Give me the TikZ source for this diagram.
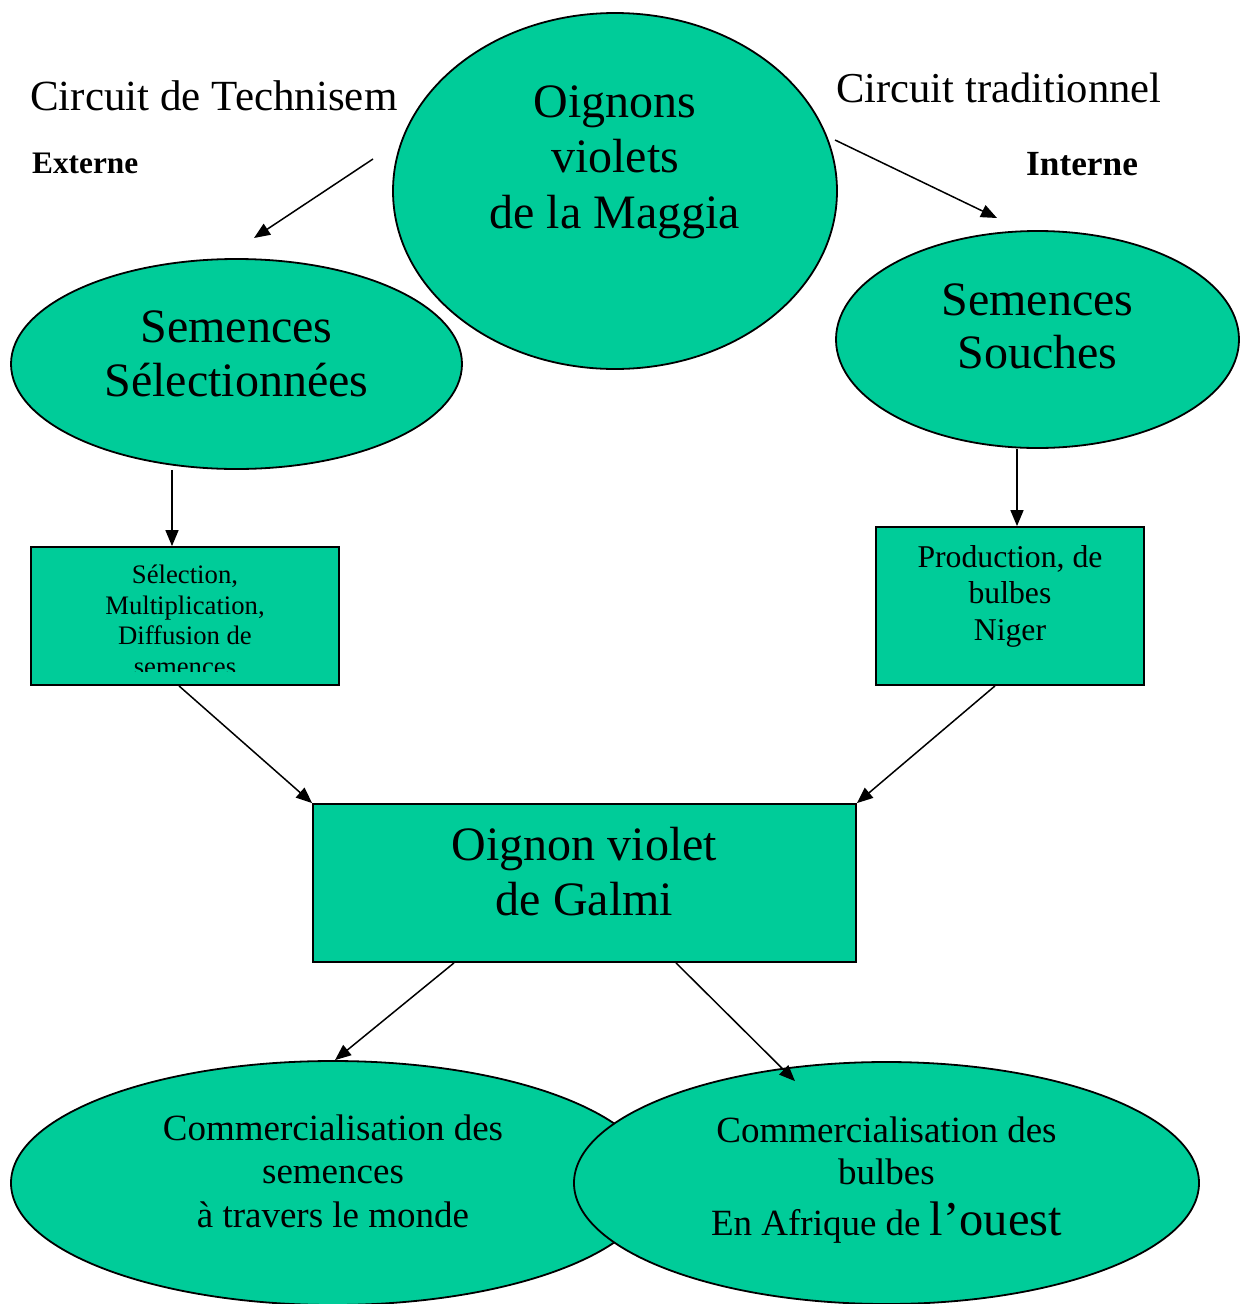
\documentclass[tikz,border=0pt]{standalone}
\usepackage{fontspec}
\setmainfont{Liberation Serif}
\usetikzlibrary{arrows.meta,shapes.geometric}
\definecolor{onion}{HTML}{00CC99}
\tikzset{
  ell/.style={ellipse, draw=black, line width=1.8pt, fill=onion, inner sep=0pt},
  boxnode/.style={rectangle, draw=black, line width=1.8pt, fill=onion, inner sep=0pt},
  arr/.style={line width=1.5pt, -{Triangle[length=16pt,width=13pt]}},
  txt/.style={align=center, inner sep=0pt, anchor=base},
  bigtxt/.style={txt, font=\fontsize{48}{55.5}\selectfont},
  lbl/.style={inner sep=0pt, anchor=base west, font=\fontsize{43}{50}\selectfont},
}
\begin{document}
\begin{tikzpicture}[x=1pt, y=-1pt]
\useasboundingbox (0,0) rectangle (1240,1304);

% titles of the two circuits
\node[lbl] (tech) at (30,110) {Circuit de Technisem};
\node[lbl, font=\fontsize{42.6}{50}\selectfont] (trad) at (836,102) {Circuit traditionnel};
\node[lbl, font=\bfseries\fontsize{31.3}{36}\selectfont] (ext) at (32,173) {Externe};
\node[lbl, font=\bfseries\fontsize{35.3}{40}\selectfont] (int) at (1026,175) {Interne};

% origin
\node[ell, minimum width=444pt, minimum height=356pt] (top) at (615,191) {};
\node[bigtxt] (toptxt) at (615,228) {Oignons\\violets\\de la Maggia};

% seed ellipses
\node[ell, minimum width=451pt, minimum height=210pt] (sel) at (236.5,364) {};
\node[bigtxt, font=\fontsize{48}{54}\selectfont] (seltxt) at (236.5,396) {Semences\\Sélectionnées};
\node[ell, minimum width=403pt, minimum height=217pt] (sou) at (1037.5,339.5) {};
\node[bigtxt, font=\fontsize{48}{53}\selectfont] (soutxt) at (1037.5,368) {Semences\\Souches};

% production boxes (the last line of the left box is cut by its frame)
\node[boxnode, minimum width=308pt, minimum height=138pt] (lbox) at (185,616) {};
\begin{scope}
  \clip (32,548) rectangle (338,671);
  \node[txt, font=\fontsize{26.7}{30.5}\selectfont] (lboxtxt) at (185,675)
    {Sélection,\\Multiplication,\\Diffusion de\\semences};
\end{scope}
\node[boxnode, minimum width=268pt, minimum height=158pt] (rbox) at (1010,606) {};
\node[txt, font=\fontsize{31.7}{36.5}\selectfont] (rboxtxt) at (1010,640)
  {Production, de\\bulbes\\Niger};

% central product
\node[boxnode, minimum width=543pt, minimum height=158pt] (cbox) at (584.5,883) {};
\node[bigtxt, font=\fontsize{48}{55}\selectfont] (cboxtxt) at (584.5,915) {Oignon violet\\de Galmi};

% markets
\node[ell, minimum width=644pt, minimum height=244pt] (bl) at (333,1183) {};
\node[txt, font=\fontsize{37}{43.5}\selectfont] (bltxt) at (333,1227)
  {Commercialisation des\\semences\\à travers le monde};
\node[ell, minimum width=625pt, minimum height=242pt] (br) at (886.5,1183) {};
\node[txt, font=\fontsize{37}{42}\selectfont] (brtxt) at (886.5,1235)
  {Commercialisation des\\bulbes\\[9pt]En Afrique de {\fontsize{48.5}{50}\selectfont l’ouest}};

% connectors
\coordinate (a1s) at (373,159);
\coordinate (a1e) at (254,238);
\coordinate (a2s) at (835,140);
\coordinate (a2e) at (997,218);
\draw[arr] (a1s) -- (a1e);
\draw[arr] (a2s) -- (a2e);
\draw[arr] ([xshift=-64.5pt]sel.south) -- ([xshift=-13pt]lbox.north);
\draw[arr] ([xshift=-20.5pt]sou.south) -- ([xshift=7pt]rbox.north);
\draw[arr] ([xshift=-6pt]lbox.south) -- (cbox.north west);
\draw[arr] ([xshift=-15pt]rbox.south) -- (cbox.north east);
\draw[arr] ([xshift=-130.5pt]cbox.south) -- ([xshift=2pt]bl.north);
\draw[arr] ([xshift=91.5pt]cbox.south) -- ([xshift=-91.5pt,yshift=-20pt]br.north);
\end{tikzpicture}
\end{document}
